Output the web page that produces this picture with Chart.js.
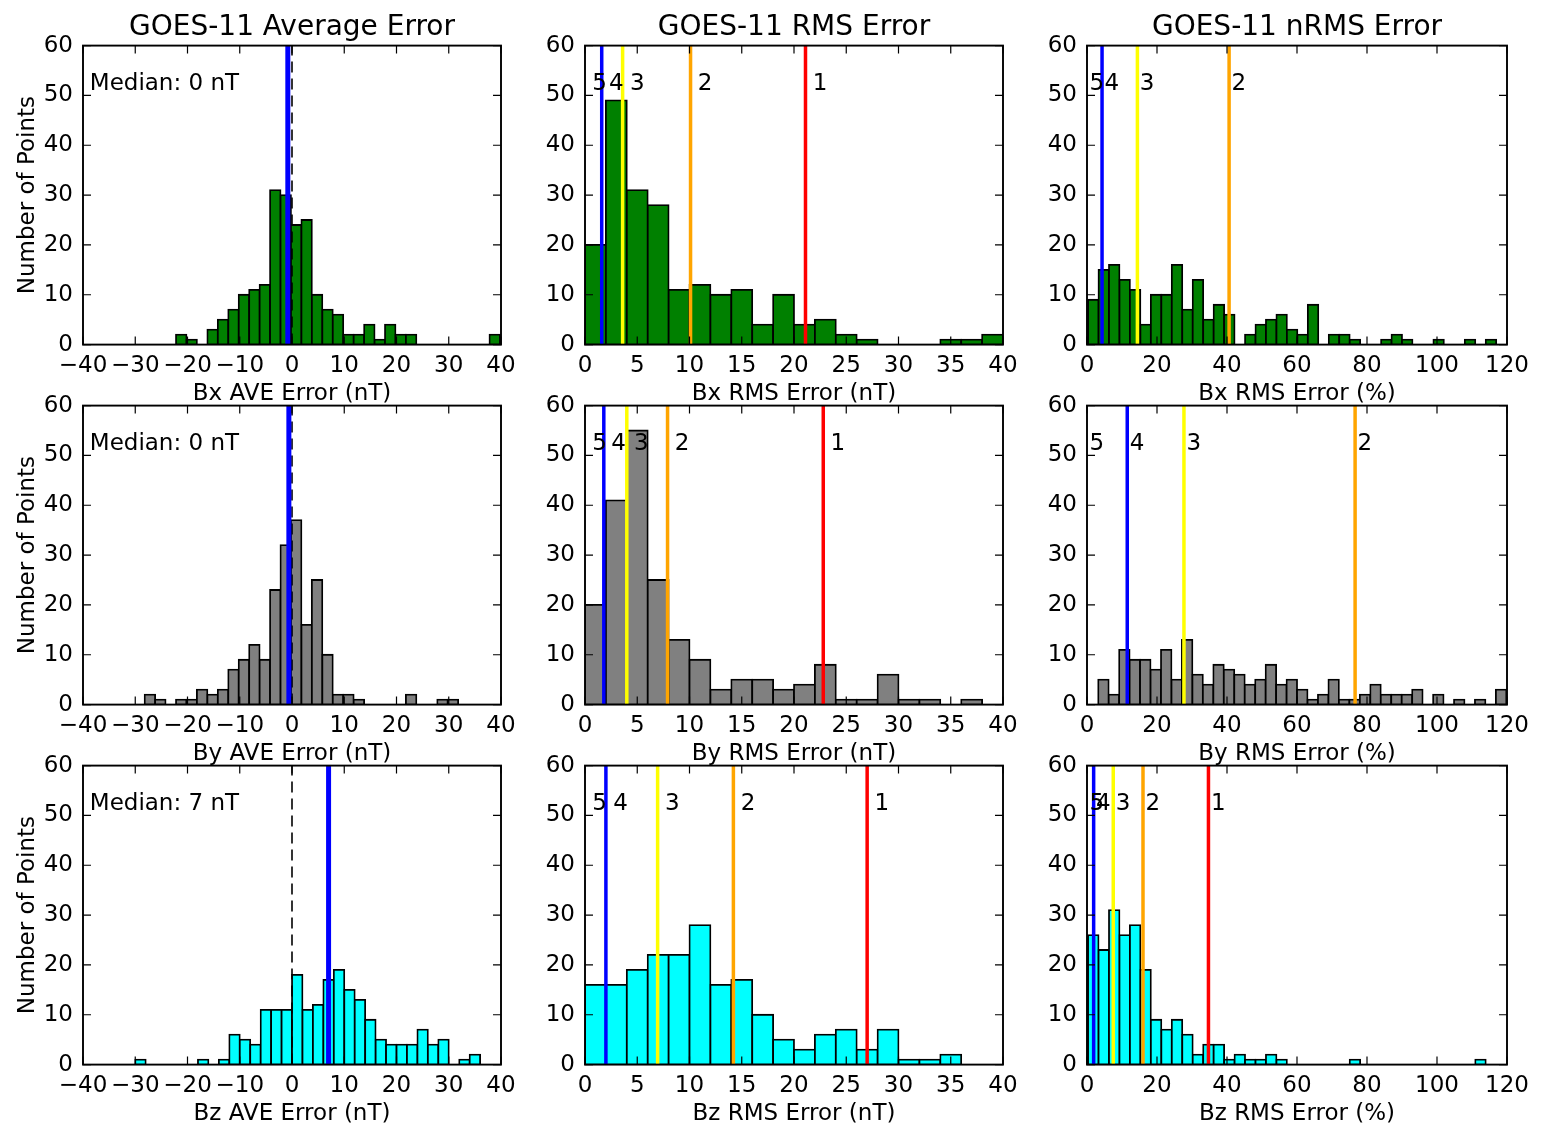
<!DOCTYPE html>
<html>
<head>
<meta charset="utf-8">
<title>GOES-11 error histograms</title>
<script src="https://cdn.jsdelivr.net/npm/chart.js@4.4.0/dist/chart.umd.min.js"></script>
<style>
  html, body { margin: 0; padding: 0; background: #fff; overflow: hidden; }
  canvas { position: absolute; }
</style>
</head>
<body>
<script>
// histogram counts per panel (rows: Bx, By, Bz; columns: AVE, RMS, nRMS)
const bxAveCounts = [2, 1, 0, 3, 5, 7, 10, 11, 12, 31, 30, 24, 25, 10, 7, 6, 2, 2, 4, 1, 4, 2, 2, 0, 0, 0, 0, 0, 0, 0, 2];
const byAveCounts = [2, 1, 0, 1, 1, 3, 2, 3, 7, 9, 12, 9, 23, 32, 37, 16, 25, 10, 2, 2, 1, 0, 0, 0, 0, 2, 0, 0, 1, 1];
const bzAveCounts = [1, 0, 0, 0, 0, 0, 1, 0, 1, 6, 5, 4, 11, 11, 11, 18, 11, 12, 17, 19, 15, 13, 9, 5, 4, 4, 4, 7, 4, 5, 0, 1, 2];

const bxRmsCounts = [20, 49, 31, 28, 11, 12, 10, 11, 4, 10, 4, 5, 2, 1, 0, 0, 0, 1, 1, 2];
const byRmsCounts = [20, 41, 55, 25, 13, 9, 3, 5, 5, 3, 4, 8, 1, 1, 6, 1, 1, 0, 1, 0];
const bzRmsCounts = [16, 16, 19, 22, 22, 28, 16, 17, 10, 5, 3, 6, 7, 3, 7, 1, 1, 2, 0, 0];

const bxNrmsCounts = [9, 15, 16, 13, 11, 4, 10, 10, 16, 7, 13, 5, 8, 6, 0, 2, 4, 5, 6, 3, 2, 8, 0, 2, 2, 1, 0, 0, 1, 2, 1, 0, 0, 1, 0, 0, 1, 0, 1];
const byNrmsCounts = [5, 2, 11, 9, 9, 7, 11, 5, 13, 6, 4, 8, 7, 6, 4, 5, 8, 4, 5, 3, 1, 2, 5, 1, 1, 2, 4, 2, 2, 2, 3, 0, 2, 0, 1, 0, 1, 0, 3];
const bzNrmsCounts = [26, 23, 31, 26, 28, 19, 9, 7, 9, 6, 2, 4, 4, 1, 2, 1, 1, 2, 1, 0, 0, 0, 0, 0, 0, 1, 0, 0, 0, 0, 0, 0, 0, 0, 0, 0, 0, 1];

// first bin edge and bin width
const bxAveBins = [-22.2, 2.0];
const byAveBins = [-28.2, 2.0];
const bzAveBins = [-30.0, 2.0];
const rmsBins = [0, 2.0];
const bxNrmsBins = [0.3, 2.99];
const byNrmsBins = [3.2, 2.99];
const bzNrmsBins = [0.3, 2.99];

// medians of the average error (Bx, By, Bz)
const aveMedians = [-0.8, -0.6, 7.0];

// error levels 5..1 (level 5 sits on the left edge, null = off the axis)
const levelNames = ['5', '4', '3', '2', '1'];
const bxRmsLevels = [0, 1.6, 3.6, 10.1, 21.1];
const byRmsLevels = [0, 1.8, 4.0, 7.9, 22.8];
const bzRmsLevels = [0, 2.0, 6.95, 14.2, 27.0];
const bxNrmsLevels = [0, 4.3, 14.4, 40.6, null];
const byNrmsLevels = [0, 11.5, 27.7, 76.6, null];
const bzNrmsLevels = [0, 1.9, 7.5, 16.0, 34.7];

const colTitles = ['GOES-11 Average Error', 'GOES-11 RMS Error', 'GOES-11 nRMS Error'];
const xTicks = [[-40, 40, 10], [0, 40, 5], [0, 120, 20]];
const yTicks = [0, 60, 10];

const levelColors = [null, '#0000ff', '#ffff00', '#ffa500', '#ff0000'];
const fills = ['#008000', '#808080', '#00ffff'];

Chart.defaults.font.family = '"DejaVu Sans", sans-serif';
Chart.defaults.font.size = 23;
Chart.defaults.color = '#000';

const AXIS_W = 80, AXIS_H = 63.6, TITLE_SIZE = 28, PLOT_H = 299, CANVAS_H = 400;
const TITLE_H = TITLE_SIZE * 1.2 + 1;
const colLeft = [3, 505, 1007];
const colPlotW = [418, 418, 420];
const rowTop = [11, 371, 731];

const panels = [
  { counts: bxAveCounts, bins: bxAveBins, xlabel: 'Bx AVE Error (nT)', median: aveMedians[0] },
  { counts: bxRmsCounts, bins: rmsBins, xlabel: 'Bx RMS Error (nT)', levels: bxRmsLevels },
  { counts: bxNrmsCounts, bins: bxNrmsBins, xlabel: 'Bx RMS Error (%)', levels: bxNrmsLevels },
  { counts: byAveCounts, bins: byAveBins, xlabel: 'By AVE Error (nT)', median: aveMedians[1] },
  { counts: byRmsCounts, bins: rmsBins, xlabel: 'By RMS Error (nT)', levels: byRmsLevels },
  { counts: byNrmsCounts, bins: byNrmsBins, xlabel: 'By RMS Error (%)', levels: byNrmsLevels },
  { counts: bzAveCounts, bins: bzAveBins, xlabel: 'Bz AVE Error (nT)', median: aveMedians[2] },
  { counts: bzRmsCounts, bins: rmsBins, xlabel: 'Bz RMS Error (nT)', levels: bzRmsLevels },
  { counts: bzNrmsCounts, bins: bzNrmsBins, xlabel: 'Bz RMS Error (%)', levels: bzNrmsLevels }
];

// box with inward ticks on all four sides, plus the text notes
function frameAndNotes(notes) {
  return {
    id: 'frameAndNotes',
    afterDatasetsDraw(chart) {
      const { ctx, chartArea: a, scales: { x, y } } = chart;
      ctx.save();
      ctx.strokeStyle = '#000';
      ctx.lineWidth = 1.2;
      ctx.beginPath();
      x.ticks.forEach((t, i) => {
        const px = x.getPixelForTick(i);
        ctx.moveTo(px, a.bottom); ctx.lineTo(px, a.bottom - 8);
        ctx.moveTo(px, a.top); ctx.lineTo(px, a.top + 8);
      });
      y.ticks.forEach((t, i) => {
        const py = y.getPixelForTick(i);
        ctx.moveTo(a.left, py); ctx.lineTo(a.left + 8, py);
        ctx.moveTo(a.right, py); ctx.lineTo(a.right - 8, py);
      });
      ctx.stroke();
      ctx.lineWidth = 1.9;
      ctx.strokeRect(a.left, a.top, a.right - a.left, a.bottom - a.top);

      ctx.font = '23px "DejaVu Sans"';
      ctx.fillStyle = '#000';
      ctx.textAlign = 'left';
      ctx.textBaseline = 'alphabetic';
      notes.forEach(n => ctx.fillText(n.text, x.getPixelForValue(n.x), y.getPixelForValue(n.y)));
      ctx.restore();
    }
  };
}

function vline(value, color, width, dash, order) {
  return {
    type: 'line',
    data: [{ x: value, y: yTicks[0] }, { x: value, y: yTicks[1] }],
    borderColor: color,
    borderWidth: width,
    borderDash: dash || [],
    pointRadius: 0,
    fill: false,
    order: order
  };
}

panels.forEach((p, k) => {
  const row = Math.floor(k / 3), col = k % 3;
  const [start, width] = p.bins;
  const [xmin, xmax, xstep] = xTicks[col];

  const datasets = [{
    type: 'bar',
    data: p.counts.map((c, i) => ({ x: start + (i + 0.5) * width, y: c })),
    backgroundColor: fills[row],
    borderColor: '#000',
    borderWidth: 1.8,
    borderSkipped: false,
    inflateAmount: 0.9,
    barPercentage: 1,
    categoryPercentage: 1,
    order: 10
  }];

  const notes = [];
  if (p.median !== undefined) {
    datasets.push(vline(0, '#000', 1.6, [11, 6], 5));
    datasets.push(vline(p.median, '#0000ff', 5, null, 1));
    notes.push({ x: -38.7, y: 51, text: 'Median: ' + Math.abs(Math.trunc(p.median)) + ' nT' });
  } else {
    p.levels.forEach((v, i) => {
      if (v === null) return;
      if (levelColors[i]) datasets.push(vline(v, levelColors[i], 3.5, null, 1));
      notes.push({ x: v + 0.7, y: 51, text: levelNames[i] });
    });
  }

  const canvas = document.createElement('canvas');
  canvas.width = AXIS_W + colPlotW[col] + AXIS_W;
  canvas.height = CANVAS_H;
  canvas.style.left = colLeft[col] + 'px';
  canvas.style.top = rowTop[row] + 'px';
  document.body.appendChild(canvas);

  new Chart(canvas.getContext('2d'), {
    type: 'bar',
    data: { datasets: datasets },
    plugins: [frameAndNotes(notes)],
    options: {
      responsive: false,
      animation: false,
      devicePixelRatio: 1,
      events: [],
      layout: {
        padding: {
          left: 0,
          right: AXIS_W,
          top: row === 0 ? 0 : TITLE_H,
          bottom: CANVAS_H - TITLE_H - PLOT_H - AXIS_H
        }
      },
      plugins: {
        legend: { display: false },
        tooltip: { enabled: false },
        title: {
          display: row === 0,
          fullSize: false,
          text: colTitles[col],
          font: { size: TITLE_SIZE, weight: 'normal' },
          color: '#000',
          padding: { top: 0, bottom: 1 }
        }
      },
      scales: {
        x: {
          type: 'linear',
          offset: false,
          min: xmin,
          max: xmax,
          grid: { display: false, drawTicks: false },
          border: { display: false },
          ticks: {
            stepSize: xstep,
            autoSkip: false,
            maxRotation: 0,
            padding: 8,
            callback: v => v < 0 ? '\u2212' + (-v) : String(v)
          },
          title: { display: true, text: p.xlabel, padding: { top: 0, bottom: 0 } },
          afterFit: s => { s.height = AXIS_H; }
        },
        y: {
          type: 'linear',
          min: yTicks[0],
          max: yTicks[1],
          grid: { display: false, drawTicks: false },
          border: { display: false },
          ticks: { stepSize: yTicks[2], padding: 10 },
          title: {
            display: col === 0,
            text: 'Number of Points',
            padding: { top: 11.4, bottom: 0 }
          },
          afterFit: s => { s.width = AXIS_W; }
        }
      }
    }
  });
});
</script>
</body>
</html>
